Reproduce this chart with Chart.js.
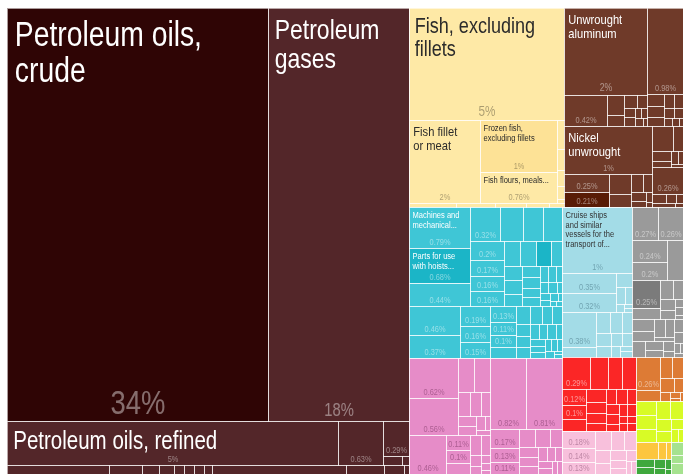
<!DOCTYPE html>
<html>
<head>
<meta charset="utf-8">
<script src="https://cdn.jsdelivr.net/npm/chart.js@4.4.1/dist/chart.umd.min.js"></script>
<style>
html,body{margin:0;padding:0;background:#ffffff;}
#wrap{width:683px;height:474px;position:relative;}
canvas{display:block;}
</style>
</head>
<body>
<div id="wrap"><canvas id="chart" width="683" height="474"></canvas></div>
<script>
// ================= DATA (share of total exports, %) =================
const sectors = ['Mineral products', 'Animal products', 'Metals', 'Machines', 'Chemicals',
  'Transportation', 'Instruments', 'Plastics and rubbers', 'Textiles', 'Stone and glass',
  'Vegetable products', 'Foodstuffs', 'Wood products', 'Miscellaneous'];

// Mineral products
const mineralFuels = [34.0, 18.45, 4.62, 0.63, 0.29, 0.05, 0.02];
const mineralFuelsNames = ['Petroleum oils, crude', 'Petroleum gases', 'Petroleum oils, refined'];
const mineralOtherA = [0.29, 0.094, 0.048, 0.043, 0.028, 0.028, 0.028, 0.023];
const mineralOtherB = [0.38, 0.108, 0.057, 0.014];
// Animal products (fish)
const fishMain = [5.49, 1.85, 1.25, 0.76, 0.07, 0.05, 0.04, 0.03, 0.01];
const fishMainNames = ['Fish, excluding fillets', 'Fish fillet or meat', 'Frozen fish, excluding fillets',
  'Fish flours, meals, pellets, unfit for human consumption'];
const fishOther = [0.06, 0.05, 0.04, 0.03, 0.02];
// Metals
const aluminium = [2.27, 0.42, 0.11, 0.06, 0.05, 0.04, 0.03, 0.03, 0.02, 0.02, 0.02, 0.01];
const aluminiumNames = ['Unwrought aluminum'];
const metalsX = [0.98, 0.07, 0.06, 0.05, 0.04, 0.04, 0.03, 0.03, 0.02, 0.02, 0.01];
const nickel = [1.32];
const nickelNames = ['Nickel unwrought'];
const metalsY = [0.25, 0.21, 0.14, 0.09, 0.07, 0.05, 0.04, 0.03, 0.02, 0.01];
const metalsZ1 = [0.16, 0.08, 0.06, 0.04, 0.03, 0.02, 0.01];
const metalsZ2 = [0.26, 0.04, 0.03, 0.02];
const metalsZ3 = [0.03, 0.01];
// Machines
const machinery = [0.79, 0.68, 0.44, 0.32, 0.24, 0.22, 0.2, 0.2, 0.17, 0.16, 0.16, 0.13, 0.13, 0.12,
  0.09, 0.08, 0.08, 0.07, 0.06, 0.06, 0.05, 0.05, 0.04, 0.04, 0.03, 0.03, 0.03,
  0.02, 0.02, 0.02, 0.02, 0.01, 0.01, 0.01];
const machineryNames = ['Machines and mechanical appliances having individual functions',
  'Parts for use with hoists and excavation machinery'];
const electrical = [0.46, 0.37, 0.19, 0.16, 0.15, 0.13, 0.11, 0.1, 0.09, 0.08, 0.07, 0.06, 0.06,
  0.05, 0.05, 0.05, 0.04, 0.04, 0.04, 0.03, 0.03, 0.03, 0.03, 0.02, 0.02, 0.02, 0.02, 0.01, 0.01];
// Chemicals
const chemicalsA = [0.62, 0.56, 0.17, 0.17, 0.09, 0.08, 0.07, 0.06, 0.05, 0.04, 0.02, 0.02];
const chemicalsB = [0.46, 0.11, 0.1, 0.08, 0.07, 0.06, 0.04, 0.03, 0.02, 0.02, 0.01];
const chemicalsLarge = [0.82, 0.81];
const chemicalsSmall = [0.17, 0.13, 0.11, 0.09, 0.08, 0.07, 0.06, 0.05, 0.05, 0.04, 0.04, 0.03,
  0.03, 0.03, 0.02, 0.02];
// Transportation
const shipsA = [1.45, 0.35, 0.32, 0.07, 0.05, 0.04, 0.02, 0.01, 0.01];
const shipsANames = ['Cruise ships and similar vessels for the transport of persons or goods'];
const shipsB = [0.38, 0.1, 0.09, 0.08, 0.07, 0.06, 0.05, 0.04, 0.04, 0.03, 0.02, 0.02];
// Instruments
const instrumentsA = [0.27, 0.26, 0.24, 0.2, 0.2];
const instrumentsB = [0.25, 0.1, 0.08, 0.06, 0.05, 0.04, 0.02, 0.02, 0.01];
const instrumentsC = [0.09, 0.07, 0.06, 0.05, 0.03];
const instrumentsD = [0.06, 0.05, 0.04, 0.03, 0.02];
const instrumentsE = [0.04, 0.03, 0.02, 0.01, 0.01];
// Smaller sectors
const plastics = [0.29, 0.18, 0.15, 0.14, 0.12, 0.1, 0.09, 0.08, 0.07, 0.06, 0.05, 0.05, 0.05,
  0.04, 0.04, 0.04, 0.03, 0.03, 0.03, 0.02, 0.02, 0.02, 0.02];
const textiles = [0.18, 0.14, 0.13, 0.1, 0.08, 0.07, 0.06, 0.05, 0.05, 0.04, 0.03, 0.03, 0.02, 0.02];
const stone = [0.26, 0.09, 0.08, 0.07, 0.06, 0.04, 0.03, 0.02, 0.01, 0.01];
const vegetable = [0.09, 0.09, 0.08, 0.08, 0.07, 0.06, 0.05, 0.04, 0.03, 0.02];
const foodstuffs = [0.12, 0.04, 0.03];
const wood = [0.05, 0.04, 0.03, 0.02, 0.02, 0.01];
const miscA = [0.05, 0.03];
const miscB = [0.04];

// ================= STRUCTURE (which arrays form which blocks) =================
const PARTS = {
  mineralFuels: [mineralFuels, mineralFuelsNames], mineralOtherA: [mineralOtherA], mineralOtherB: [mineralOtherB],
  fishMain: [fishMain, fishMainNames], fishOther: [fishOther],
  aluminium: [aluminium, aluminiumNames], metalsX: [metalsX], nickel: [nickel, nickelNames],
  metalsY: [metalsY], metalsZ1: [metalsZ1], metalsZ2: [metalsZ2], metalsZ3: [metalsZ3],
  machinery: [machinery, machineryNames], electrical: [electrical],
  chemicalsA: [chemicalsA], chemicalsB: [chemicalsB], chemicalsLarge: [chemicalsLarge], chemicalsSmall: [chemicalsSmall],
  shipsA: [shipsA, shipsANames], shipsB: [shipsB],
  instrumentsA: [instrumentsA], instrumentsB: [instrumentsB], instrumentsC: [instrumentsC],
  instrumentsD: [instrumentsD], instrumentsE: [instrumentsE],
  plastics: [plastics], textiles: [textiles], stone: [stone], vegetable: [vegetable],
  foodstuffs: [foodstuffs], wood: [wood], miscA: [miscA], miscB: [miscB]
};
const STRUCTURE = [
  { sector: 0, parts: ['mineralFuels', 'mineralOtherA', 'mineralOtherB'] },
  { sector: 1, parts: ['fishMain', 'fishOther'] },
  { sector: 2, parts: ['aluminium', 'metalsX', 'nickel', 'metalsY', 'metalsZ1', 'metalsZ2', 'metalsZ3'] },
  { sector: 3, parts: ['machinery', 'electrical'] },
  { sector: 4, parts: [{ group: ['chemicalsA', 'chemicalsB'] }, { flat: 'chemicalsLarge' }, { flat: 'chemicalsSmall' }] },
  { sector: 5, parts: ['shipsA', 'shipsB'] },
  { sector: 6, parts: ['instrumentsA', 'instrumentsB', 'instrumentsC', 'instrumentsD', 'instrumentsE'] },
  { sector: 7, parts: [{ flat: 'plastics' }] },
  { sector: 8, parts: [{ flat: 'textiles' }] },
  { sector: 9, parts: [{ flat: 'stone' }] },
  { sector: 10, parts: [{ flat: 'vegetable' }] },
  { sector: 11, parts: [{ flat: 'foodstuffs' }] },
  { sector: 12, parts: [{ flat: 'wood' }] },
  { sector: 13, parts: [{ flat: 'miscA' }] },
  { sector: 13, parts: [{ flat: 'miscB' }] }
];

// ================= STYLES =================
const SECTOR_STYLE = [
  { fill: '#532629', name: '#ffffff', pct: 'rgba(255,255,255,0.42)' },
  { fill: '#fee9a6', name: '#2b2b2b', pct: 'rgba(0,0,0,0.33)' },
  { fill: '#6f3a29', name: '#ffffff', pct: 'rgba(255,255,255,0.45)' },
  { fill: '#3fc6d6', name: '#ffffff', pct: 'rgba(255,255,255,0.45)' },
  { fill: '#e68cc8', name: '#2b2b2b', pct: 'rgba(60,0,40,0.35)' },
  { fill: '#a3dce7', name: '#333333', pct: 'rgba(0,40,60,0.32)' },
  { fill: '#9a9a9a', name: '#ffffff', pct: 'rgba(255,255,255,0.45)' },
  { fill: '#fb2626', name: '#ffffff', pct: 'rgba(255,255,255,0.5)' },
  { fill: '#f8c0dc', name: '#333333', pct: 'rgba(60,0,40,0.32)' },
  { fill: '#dd7b35', name: '#ffffff', pct: 'rgba(255,255,255,0.45)' },
  { fill: '#d8fb26', name: '#333333', pct: 'rgba(0,0,0,0.3)' },
  { fill: '#fcc63e', name: '#333333', pct: 'rgba(0,0,0,0.38)' },
  { fill: '#3fa83d', name: '#ffffff', pct: 'rgba(255,255,255,0.45)' },
  { fill: '#a6e28f', name: '#333333', pct: 'rgba(0,0,0,0.3)' }
];
const SHADE = {
  'mineralFuels:0': '#2f0505',
  'fishMain:2': '#fde296',
  'metalsY:1': '#581c06',
  'machinery:1': '#1bb5c7',
  'machinery:13': '#1bb5c7',
  'instrumentsB:0': '#7b7b7b'
};
const NAME_SIZE = {
  'Petroleum oils, crude': 34.5, 'Petroleum gases': 28, 'Petroleum oils, refined': 25,
  'Fish, excluding fillets': 22, 'Fish fillet or meat': 13.6, 'Unwrought aluminum': 13.6,
  'Nickel unwrought': 13.6
};
const DEFAULT_NAME_SIZE = 9.2;
const MAX_NAME_LINES = 4;
const RATIO = (1 + Math.sqrt(5)) / 2;

// font selection (narrow face, else horizontally compressed)
let FAMILY = '"Liberation Sans Narrow"';
let SX = 1;
(function () {
  const p = document.createElement('canvas').getContext('2d');
  p.font = '40px "Liberation Sans Narrow", monospace';
  const a = p.measureText('Petroleum oils').width;
  p.font = '40px monospace';
  const b = p.measureText('Petroleum oils').width;
  if (Math.abs(a - b) < 1) { FAMILY = '"Liberation Sans", Arial, sans-serif'; SX = 0.82; }
})();

// ================= TREE + SQUARIFY =================
function leavesOf(key, sector) {
  const [vals, names] = PARTS[key];
  return vals.map((v, i) => ({ value: v, name: names && names[i] ? names[i] : null, id: key + ':' + i, sector }));
}
function groupOf(children) {
  return { children, value: children.reduce((s, c) => s + c.value, 0) };
}
function buildTree() {
  const tops = STRUCTURE.map(s => {
    const kids = [];
    s.parts.forEach(p => {
      if (typeof p === 'string') kids.push(groupOf(leavesOf(p, s.sector)));
      else if (p.flat) kids.push(...leavesOf(p.flat, s.sector));
      else if (p.group) kids.push(groupOf(p.group.map(k => groupOf(leavesOf(k, s.sector)))));
    });
    return groupOf(kids);
  });
  return groupOf(tops);
}
function layout(node, x0, y0, x1, y1) {
  node.x0 = x0; node.y0 = y0; node.x1 = x1; node.y1 = y1;
  if (!node.children) return;
  const nodes = node.children.slice().sort((a, b) => b.value - a.value);
  let value = node.value, i0 = 0, i1 = 0;
  const n = nodes.length;
  while (i0 < n) {
    const dx = x1 - x0, dy = y1 - y0;
    let sumValue;
    do sumValue = nodes[i1++].value; while (!sumValue && i1 < n);
    let minValue = sumValue, maxValue = sumValue;
    const alpha = Math.max(dy / dx, dx / dy) / (value * RATIO);
    let beta = sumValue * sumValue * alpha;
    let minRatio = Math.max(maxValue / beta, beta / minValue);
    for (; i1 < n; ++i1) {
      const nv = nodes[i1].value;
      sumValue += nv;
      if (nv < minValue) minValue = nv;
      if (nv > maxValue) maxValue = nv;
      beta = sumValue * sumValue * alpha;
      const newRatio = Math.max(maxValue / beta, beta / minValue);
      if (newRatio > minRatio) { sumValue -= nv; break; }
      minRatio = newRatio;
    }
    const row = nodes.slice(i0, i1);
    if (dx < dy) {
      const yy = value ? y0 + dy * sumValue / value : y1;
      const k = (x1 - x0) / sumValue;
      let x = x0;
      row.forEach(c => { const cx = x + c.value * k; layout(c, x, y0, cx, yy); x = cx; });
      y0 = yy;
    } else {
      const xx = value ? x0 + dx * sumValue / value : x1;
      const k = (y1 - y0) / sumValue;
      let y = y0;
      row.forEach(c => { const cy = y + c.value * k; layout(c, x0, y, xx, cy); y = cy; });
      x0 = xx;
    }
    value -= sumValue; i0 = i1;
  }
}
function collectLeaves(node, out) {
  if (node.children) node.children.forEach(c => collectLeaves(c, out)); else out.push(node);
  return out;
}
function fmtPct(v) {
  if (v >= 1) return Math.round(v) + '%';
  return parseFloat(v.toFixed(2)) + '%';
}

// ================= TEXT HELPERS =================
function setFont(ctx, px) { ctx.font = px + 'px ' + FAMILY; }
function tw(ctx, t) { return ctx.measureText(t).width * SX; }
function drawText(ctx, t, x, y, align) {
  ctx.save();
  ctx.translate(x, y);
  ctx.scale(SX, 1);
  ctx.textAlign = align;
  ctx.textBaseline = 'alphabetic';
  ctx.fillText(t, 0, 0);
  ctx.restore();
}
function wrapText(ctx, text, maxW, lastW, maxLines) {
  const words = text.split(' ');
  const lines = [];
  let cur = '';
  words.forEach(w => {
    const test = cur ? cur + ' ' + w : w;
    if (!cur || tw(ctx, test) <= maxW) cur = test; else { lines.push(cur); cur = w; }
  });
  if (cur) lines.push(cur);
  if (lines.length > maxLines) {
    const kept = lines.slice(0, maxLines);
    const ws = (kept[maxLines - 1] + ' ' + lines[maxLines].split(' ')[0]).split(' ');
    while (ws.length > 1 && tw(ctx, ws.join(' ').replace(/[,;:]$/, '') + '...') > lastW) ws.pop();
    kept[maxLines - 1] = ws.join(' ').replace(/[,;:]$/, '') + '...';
    return kept;
  }
  return lines;
}

// ================= CHART.JS PLUGIN =================
const treemapPlugin = {
  id: 'treemapCells',
  afterDatasetsDraw(chart) {
    const ctx = chart.ctx;
    const xs = chart.scales.x, ys = chart.scales.y;
    const px0 = xs.getPixelForValue(0), px1 = xs.getPixelForValue(100);
    const py0 = ys.getPixelForValue(0), py1 = ys.getPixelForValue(100);
    const root = buildTree();
    layout(root, px0, Math.min(py0, py1), px1, Math.max(py0, py1));
    const leaves = collectLeaves(root, []);
    leaves.forEach(l => {
      l.rx0 = Math.round(l.x0); l.ry0 = Math.round(l.y0);
      l.rx1 = Math.round(l.x1); l.ry1 = Math.round(l.y1);
    });
    ctx.save();
    leaves.forEach(l => {
      ctx.fillStyle = SHADE[l.id] || SECTOR_STYLE[l.sector].fill;
      ctx.fillRect(l.rx0, l.ry0, l.rx1 - l.rx0, l.ry1 - l.ry0);
    });
    ctx.strokeStyle = 'rgba(255,255,255,0.6)';
    ctx.lineWidth = 1;
    leaves.forEach(l => {
      ctx.strokeRect(l.rx0 + 0.5, l.ry0 + 0.5, l.rx1 - l.rx0, l.ry1 - l.ry0);
    });
    leaves.forEach(l => {
      const w = l.rx1 - l.rx0, h = l.ry1 - l.ry0;
      const st = SECTOR_STYLE[l.sector];
      const ps = Math.max(9, Math.min(34, 0.128 * Math.min(w, h)));
      let pctShown = false;
      if (l.value >= 0.095) {
        const t = fmtPct(l.value);
        setFont(ctx, ps);
        const width = tw(ctx, t);
        if (width <= w - 3 && ps + 3 <= h) {
          ctx.fillStyle = st.pct;
          drawText(ctx, t, (l.rx0 + l.rx1) / 2 + 0.5, l.ry1 - 2 - ps * 0.15, 'center');
          pctShown = true;
        }
      }
      if (l.name && w >= 50 && h >= 28) {
        const fs = NAME_SIZE[l.name] || DEFAULT_NAME_SIZE;
        setFont(ctx, fs);
        const pad = 2 + 0.17 * fs;
        const lh = 1.04 * fs;
        const avail = h - (1 + 1.08 * fs) - (pctShown ? ps + 4 : 2);
        const maxLines = Math.min(MAX_NAME_LINES, Math.max(1, 1 + Math.floor(avail / lh)));
        const maxW = Math.max(0.8 * w, w - 2 * pad - 14);
        const lines = wrapText(ctx, l.name, maxW, w - 2 * pad, maxLines);
        ctx.fillStyle = st.name;
        lines.forEach((ln, i) => {
          drawText(ctx, ln, l.rx0 + pad, l.ry0 + 1 + 1.08 * fs + i * lh, 'left');
        });
      }
    });
    ctx.restore();
  }
};

new Chart(document.getElementById('chart'), {
  type: 'scatter',
  data: { datasets: [{ label: 'Exports', data: [], pointRadius: 0 }] },
  options: {
    responsive: false,
    animation: false,
    devicePixelRatio: 1,
    layout: { padding: { left: 7, top: 8, right: 0, bottom: 0 } },
    scales: {
      x: { type: 'linear', min: 0, max: 100, display: false },
      y: { type: 'linear', min: 0, max: 100, reverse: true, display: false }
    },
    plugins: { legend: { display: false }, tooltip: { enabled: false }, title: { display: false } }
  },
  plugins: [treemapPlugin]
});
</script>
</body>
</html>
